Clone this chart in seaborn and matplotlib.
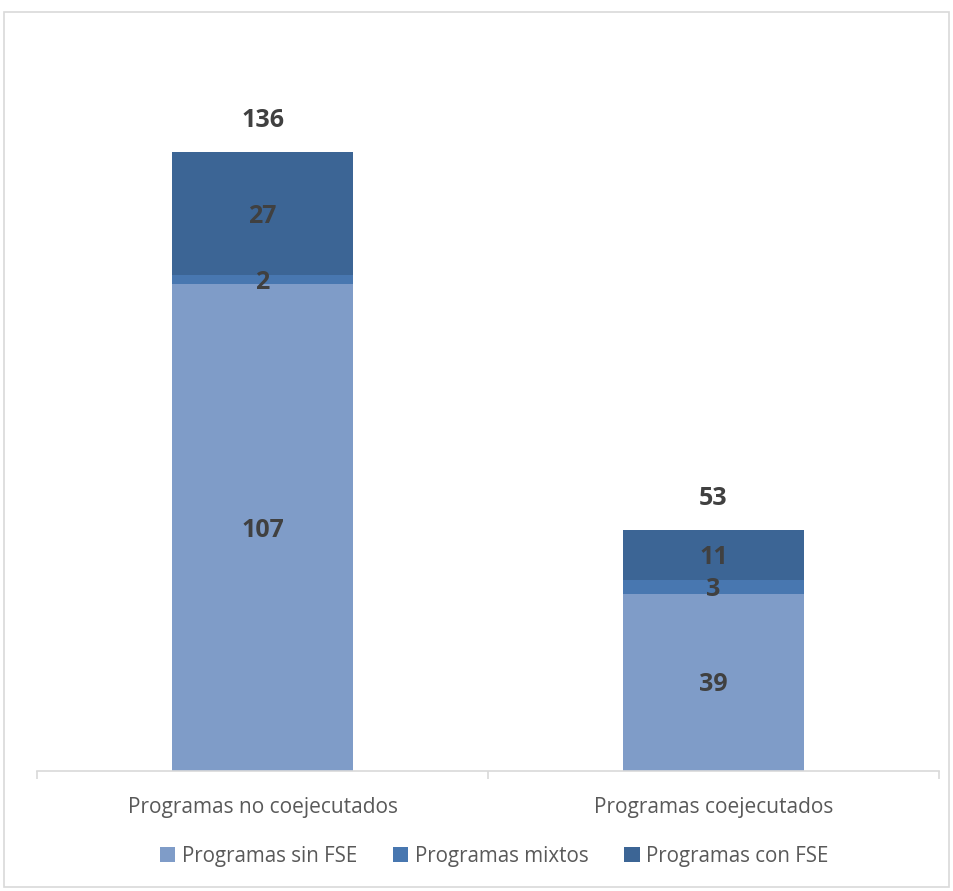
import pandas as pd
import matplotlib.pyplot as plt
import seaborn as sns
from matplotlib.patches import Rectangle, Patch

categorias = ['Programas no coejecutados', 'Programas coejecutados']
series = ['Programas sin FSE', 'Programas mixtos', 'Programas con FSE']
sin_fse = [107, 39]
mixtos = [2, 3]
con_fse = [27, 11]
colores = ['#7F9CC8', '#4877B0', '#3C6595']

sns.set_theme(style='white')
plt.rcParams['font.family'] = ['Open Sans', 'DejaVu Sans']

fig = plt.figure(figsize=(9.54, 8.91), dpi=100)
ax = fig.add_axes([0.0388, 0.1347, 0.9455, 0.817])

valores = [sin_fse, mixtos, con_fse]
base = [0] * len(categorias)
for nombre, vals, col in zip(series, valores, colores):
    df = pd.DataFrame({'cat': categorias, 'val': vals})
    sns.barplot(data=df, x='cat', y='val', color=col, width=0.4,
                bottom=base, ax=ax, saturation=1, linewidth=0)
    for i, v in enumerate(vals):
        ax.text(i, base[i] + v / 2 - 0.6, str(v), ha='center', va='center',
                fontsize=18, fontweight='bold', color='#404040')
    base = [b + v for b, v in zip(base, vals)]

# totales
for i, t in enumerate(base):
    ax.text(i, t + 7.0, str(t), ha='center', va='center',
            fontsize=18, fontweight='bold', color='#404040')

ax.set_xlim(-0.5, 1.5)
ax.set_ylim(0, 160)
ax.set_xlabel('')
ax.set_ylabel('')
ax.set_yticks([])
for s in ['top', 'right', 'left']:
    ax.spines[s].set_visible(False)
ax.spines['bottom'].set_color('#D9D9D9')
ax.spines['bottom'].set_linewidth(1.2)

ax.set_xticks([0, 1])
ax.set_xticklabels(categorias, fontsize=15, color='#595959')
ax.tick_params(axis='x', which='major', length=0, pad=19)
ax.set_xticks([-0.5, 0.5, 1.5], minor=True)
ax.tick_params(axis='x', which='minor', length=6, width=1.2,
               color='#D9D9D9', bottom=True)

handles = [Patch(facecolor=c, edgecolor='none') for c in colores]
fig.legend(handles, series, loc='center', bbox_to_anchor=(0.518, 0.039),
           ncol=3, frameon=False, fontsize=14.8, handlelength=0.75,
           handleheight=0.75, handletextpad=0.3, columnspacing=1.76,
           labelcolor='#595959')

fig.patches.append(Rectangle((4 / 954, 4 / 891), 945 / 954, 875 / 891,
                             transform=fig.transFigure, fill=False,
                             edgecolor='#D9D9D9', linewidth=1.2))

fig.savefig('out.png', dpi=100)
